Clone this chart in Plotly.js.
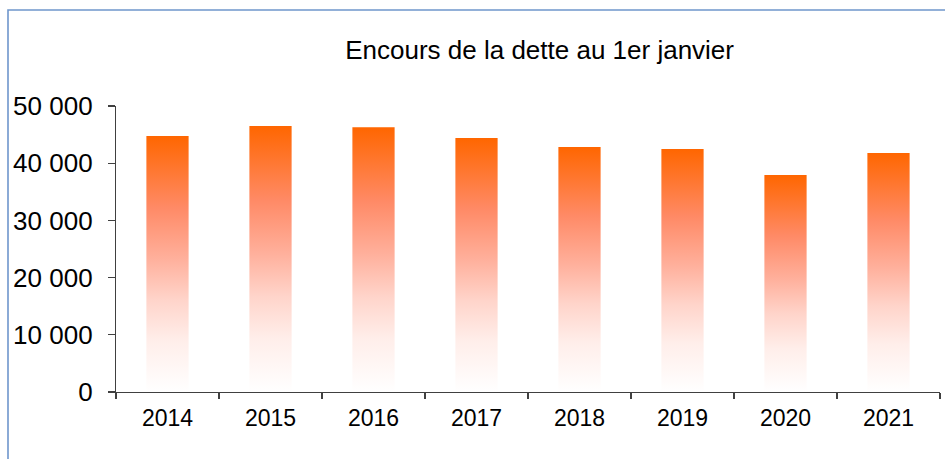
<!DOCTYPE html>
<html>
<head>
<meta charset="utf-8">
<script src="https://cdn.plot.ly/plotly-3.0.1.min.js"></script>
<style>
  html, body { margin: 0; padding: 0; background: #ffffff; }
  #chart { width: 945px; height: 459px; }
</style>
</head>
<body>
<div id="chart"></div>
<script>
// Data
const years = ['2014', '2015', '2016', '2017', '2018', '2019', '2020', '2021'];
const encours = [44750, 46500, 46300, 44400, 42850, 42500, 37950, 41800];
const yTicks = [0, 10000, 20000, 30000, 40000, 50000];

const FONT = '"Liberation Sans", Arial, Helvetica, sans-serif';

const trace = {
  type: 'bar',
  x: years,
  y: encours,
  width: 0.41,
  marker: { color: '#FF6600', line: { width: 0 } },
  hoverinfo: 'x+y'
};

const layout = {
  width: 945,
  height: 459,
  margin: { l: 116, r: 5, t: 106, b: 67 },
  paper_bgcolor: '#ffffff',
  plot_bgcolor: '#ffffff',
  separators: ', ',
  showlegend: false,
  font: { family: FONT, color: '#000000' },
  title: {
    text: 'Encours de la dette au 1er janvier',
    font: { family: FONT, size: 26, color: '#000000' },
    xref: 'container', x: 0.571, xanchor: 'center',
    yref: 'container', y: 0.892, yanchor: 'middle'
  },
  xaxis: {
    type: 'category',
    showgrid: false,
    zeroline: false,
    showline: true,
    linecolor: '#404040',
    linewidth: 1.2,
    ticks: 'outside',
    tickson: 'boundaries',
    ticklen: 6,
    tickcolor: '#404040',
    tickwidth: 1.2,
    ticklabelstandoff: 5,
    tickfont: { family: FONT, size: 23, color: '#000000' },
    fixedrange: true
  },
  yaxis: {
    range: [0, 50000],
    tickvals: yTicks,
    tickformat: ',d',
    showgrid: false,
    zeroline: false,
    showline: true,
    linecolor: '#404040',
    linewidth: 1.2,
    ticks: 'outside',
    ticklen: 7,
    tickcolor: '#404040',
    tickwidth: 1.2,
    ticklabelstandoff: 10,
    tickfont: { family: FONT, size: 26, color: '#000000' },
    fixedrange: true
  },
  shapes: [{
    type: 'rect',
    xref: 'paper', yref: 'paper',
    x0: (8 - 116) / 824, x1: (960 - 116) / 824,
    y0: (392 - 480) / 286, y1: (392 - 10) / 286,
    line: { color: '#6F96CC', width: 1.6 },
    fillcolor: 'rgba(0,0,0,0)',
    layer: 'below'
  }]
};

Plotly.newPlot('chart', [trace], layout, { displayModeBar: false, staticPlot: true }).then(function (gd) {
  const svgNS = 'http://www.w3.org/2000/svg';
  const svg = gd.querySelector('.main-svg');
  let defs = svg.querySelector('defs');
  if (!defs) { defs = document.createElementNS(svgNS, 'defs'); svg.insertBefore(defs, svg.firstChild); }
  const grad = document.createElementNS(svgNS, 'linearGradient');
  grad.setAttribute('id', 'barGrad');
  grad.setAttribute('x1', '0'); grad.setAttribute('y1', '0');
  grad.setAttribute('x2', '0'); grad.setAttribute('y2', '1');
  const stops = [
    [0, '#FF6600'], [0.28, '#FF8A66'], [0.48, '#FFB09C'],
    [0.64, '#FFD4CA'], [0.8, '#FFEEEA'], [1, '#FFFFFF']
  ];
  stops.forEach(function (s) {
    const st = document.createElementNS(svgNS, 'stop');
    st.setAttribute('offset', s[0]);
    st.setAttribute('stop-color', s[1]);
    grad.appendChild(st);
  });
  defs.appendChild(grad);
  gd.querySelectorAll('.trace.bars .point path').forEach(function (p) {
    p.style.fill = 'url(#barGrad)';
    p.style.fillOpacity = '1';
  });
});
</script>
</body>
</html>
